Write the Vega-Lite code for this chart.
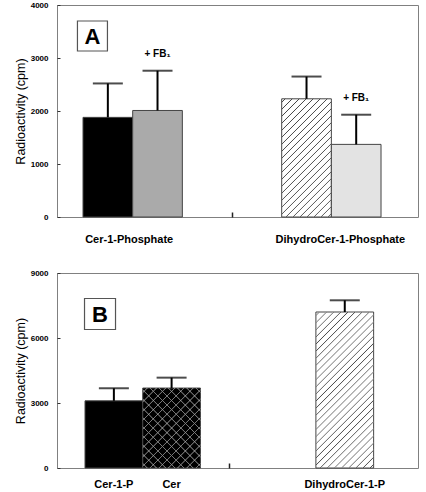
{
  "$schema": "https://vega.github.io/schema/vega-lite/v6.json",
  "padding": {"left": 13, "top": 0, "right": 8, "bottom": 0},
  "bounds": "flush",
  "spacing": 56,
  "config": {
    "font": "Liberation Sans",
    "view": {"stroke": "#808080", "strokeWidth": 1},
    "axis": {
      "grid": false,
      "domain": false,
      "labelFont": "Liberation Sans",
      "labelFontWeight": "bold",
      "labelFontSize": 8,
      "labelColor": "#000000",
      "tickColor": "#333333",
      "tickSize": -3,
      "labelPadding": 12,
      "titleFont": "Liberation Sans",
      "titleFontWeight": "normal",
      "titleFontSize": 12.5,
      "titleColor": "#000000",
      "titlePadding": 3
    }
  },
  "vconcat": [
    {
      "width": 361,
      "height": 212,
      "data": {"values": [
        {"cat": "Cer-1-P", "group": "Cer-1-Phosphate", "value": 1880, "upper": 2520, "note": ""},
        {"cat": "Cer-1-P+FB1", "group": "", "value": 2010, "upper": 2760, "note": "+ FB₁"},
        {"cat": "DihydroCer-1-P", "group": "DihydroCer-1-Phosphate", "value": 2230, "upper": 2650, "note": ""},
        {"cat": "DihydroCer-1-P+FB1", "group": "", "value": 1370, "upper": 1930, "note": "+ FB₁"}
      ]},
      "layer": [
        {
          "mark": {"type": "bar", "stroke": "#444444", "strokeWidth": 1},
          "encoding": {
            "x": {"field": "cat", "type": "nominal",
              "scale": {"domain": ["Cer-1-P", "Cer-1-P+FB1", "gap1", "gap2", "DihydroCer-1-P", "DihydroCer-1-P+FB1"], "paddingInner": 0, "paddingOuter": 0.634, "align": 0.413},
              "axis": {"title": null, "labels": false, "values": ["gap2"], "bandPosition": 0, "tickSize": -5, "tickWidth": 1.5, "tickColor": "#222222"}},
            "y": {"field": "value", "type": "quantitative",
              "scale": {"domain": [0, 4000], "nice": false},
              "axis": {"values": [0, 1000, 2000, 3000, 4000], "format": "d", "title": "Radioactivity (cpm)"}},
            "fill": {"field": "cat", "type": "nominal",
              "scale": {"domain": ["Cer-1-P", "Cer-1-P+FB1", "DihydroCer-1-P", "DihydroCer-1-P+FB1"], "range": ["#000000", "#aaaaaa", "#ffffff", "#e3e3e3"]},
              "legend": null}
          }
        },
        {
          "transform": [{"filter": "datum.cat === 'DihydroCer-1-P'"}],
          "mark": {"type": "bar", "strokeWidth": 0, "fill": {"gradient": "linear", "x1": 0, "y1": 0, "x2": 0.5073, "y2": 1.2071, "stops": [
            {"offset": 0.0138, "color": "rgba(255,255,255,0)"}, {"offset": 0.0208, "color": "#444444"}, {"offset": 0.0278, "color": "rgba(255,255,255,0)"},
            {"offset": 0.0555, "color": "rgba(255,255,255,0)"}, {"offset": 0.0625, "color": "#444444"}, {"offset": 0.0695, "color": "rgba(255,255,255,0)"},
            {"offset": 0.0972, "color": "rgba(255,255,255,0)"}, {"offset": 0.1042, "color": "#444444"}, {"offset": 0.1112, "color": "rgba(255,255,255,0)"},
            {"offset": 0.1388, "color": "rgba(255,255,255,0)"}, {"offset": 0.1458, "color": "#444444"}, {"offset": 0.1528, "color": "rgba(255,255,255,0)"},
            {"offset": 0.1805, "color": "rgba(255,255,255,0)"}, {"offset": 0.1875, "color": "#444444"}, {"offset": 0.1945, "color": "rgba(255,255,255,0)"},
            {"offset": 0.2222, "color": "rgba(255,255,255,0)"}, {"offset": 0.2292, "color": "#444444"}, {"offset": 0.2362, "color": "rgba(255,255,255,0)"},
            {"offset": 0.2638, "color": "rgba(255,255,255,0)"}, {"offset": 0.2708, "color": "#444444"}, {"offset": 0.2778, "color": "rgba(255,255,255,0)"},
            {"offset": 0.3055, "color": "rgba(255,255,255,0)"}, {"offset": 0.3125, "color": "#444444"}, {"offset": 0.3195, "color": "rgba(255,255,255,0)"},
            {"offset": 0.3472, "color": "rgba(255,255,255,0)"}, {"offset": 0.3542, "color": "#444444"}, {"offset": 0.3612, "color": "rgba(255,255,255,0)"},
            {"offset": 0.3888, "color": "rgba(255,255,255,0)"}, {"offset": 0.3958, "color": "#444444"}, {"offset": 0.4028, "color": "rgba(255,255,255,0)"},
            {"offset": 0.4305, "color": "rgba(255,255,255,0)"}, {"offset": 0.4375, "color": "#444444"}, {"offset": 0.4445, "color": "rgba(255,255,255,0)"},
            {"offset": 0.4722, "color": "rgba(255,255,255,0)"}, {"offset": 0.4792, "color": "#444444"}, {"offset": 0.4862, "color": "rgba(255,255,255,0)"},
            {"offset": 0.5138, "color": "rgba(255,255,255,0)"}, {"offset": 0.5208, "color": "#444444"}, {"offset": 0.5278, "color": "rgba(255,255,255,0)"},
            {"offset": 0.5555, "color": "rgba(255,255,255,0)"}, {"offset": 0.5625, "color": "#444444"}, {"offset": 0.5695, "color": "rgba(255,255,255,0)"},
            {"offset": 0.5972, "color": "rgba(255,255,255,0)"}, {"offset": 0.6042, "color": "#444444"}, {"offset": 0.6112, "color": "rgba(255,255,255,0)"},
            {"offset": 0.6388, "color": "rgba(255,255,255,0)"}, {"offset": 0.6458, "color": "#444444"}, {"offset": 0.6528, "color": "rgba(255,255,255,0)"},
            {"offset": 0.6805, "color": "rgba(255,255,255,0)"}, {"offset": 0.6875, "color": "#444444"}, {"offset": 0.6945, "color": "rgba(255,255,255,0)"},
            {"offset": 0.7222, "color": "rgba(255,255,255,0)"}, {"offset": 0.7292, "color": "#444444"}, {"offset": 0.7362, "color": "rgba(255,255,255,0)"},
            {"offset": 0.7638, "color": "rgba(255,255,255,0)"}, {"offset": 0.7708, "color": "#444444"}, {"offset": 0.7778, "color": "rgba(255,255,255,0)"},
            {"offset": 0.8055, "color": "rgba(255,255,255,0)"}, {"offset": 0.8125, "color": "#444444"}, {"offset": 0.8195, "color": "rgba(255,255,255,0)"},
            {"offset": 0.8472, "color": "rgba(255,255,255,0)"}, {"offset": 0.8542, "color": "#444444"}, {"offset": 0.8612, "color": "rgba(255,255,255,0)"},
            {"offset": 0.8888, "color": "rgba(255,255,255,0)"}, {"offset": 0.8958, "color": "#444444"}, {"offset": 0.9028, "color": "rgba(255,255,255,0)"},
            {"offset": 0.9305, "color": "rgba(255,255,255,0)"}, {"offset": 0.9375, "color": "#444444"}, {"offset": 0.9445, "color": "rgba(255,255,255,0)"},
            {"offset": 0.9722, "color": "rgba(255,255,255,0)"}, {"offset": 0.9792, "color": "#444444"}, {"offset": 0.9862, "color": "rgba(255,255,255,0)"}
          ]}},
          "encoding": {
            "x": {"field": "cat", "type": "nominal"},
            "y": {"field": "value", "type": "quantitative"}
          }
        },
        {
          "mark": {"type": "rule", "color": "#000000", "strokeWidth": 2},
          "encoding": {
            "x": {"field": "cat", "type": "nominal"},
            "y": {"field": "value", "type": "quantitative"},
            "y2": {"field": "upper"}
          }
        },
        {
          "mark": {"type": "tick", "color": "#000000", "size": 30, "thickness": 2},
          "encoding": {
            "x": {"field": "cat", "type": "nominal"},
            "y": {"field": "upper", "type": "quantitative"}
          }
        },
        {
          "transform": [{"filter": "datum.note !== ''"}],
          "mark": {"type": "text", "fontSize": 10, "fontWeight": "bold", "dy": -17, "baseline": "middle", "color": "#000000"},
          "encoding": {
            "x": {"field": "cat", "type": "nominal"},
            "y": {"field": "upper", "type": "quantitative"},
            "text": {"field": "note"}
          }
        },
        {
          "transform": [{"filter": "datum.cat === 'Cer-1-P'"}],
          "mark": {"type": "text", "fontSize": 11, "fontWeight": "bold", "dx": -3.5, "dy": 23, "baseline": "middle", "color": "#000000"},
          "encoding": {
            "x": {"field": "cat", "type": "nominal", "bandPosition": 1},
            "y": {"datum": 0, "type": "quantitative"},
            "text": {"field": "group"}
          }
        },
        {
          "transform": [{"filter": "datum.cat === 'DihydroCer-1-P'"}],
          "mark": {"type": "text", "fontSize": 11, "fontWeight": "bold", "dx": 9, "dy": 23, "baseline": "middle", "color": "#000000"},
          "encoding": {
            "x": {"field": "cat", "type": "nominal", "bandPosition": 1},
            "y": {"datum": 0, "type": "quantitative"},
            "text": {"field": "group"}
          }
        },
        {
          "data": {"values": [{"panel": "A"}]},
          "mark": {"type": "point", "shape": "square", "size": 900, "filled": false, "stroke": "#555555", "strokeWidth": 1.2, "opacity": 1},
          "encoding": {
            "x": {"datum": "Cer-1-P", "type": "nominal", "bandPosition": 0.19},
            "y": {"datum": 3415, "type": "quantitative"}
          }
        },
        {
          "data": {"values": [{"panel": "A"}]},
          "mark": {"type": "text", "fontSize": 22, "fontWeight": "bold", "baseline": "middle", "dy": 1, "color": "#000000"},
          "encoding": {
            "x": {"datum": "Cer-1-P", "type": "nominal", "bandPosition": 0.19},
            "y": {"datum": 3415, "type": "quantitative"},
            "text": {"field": "panel"}
          }
        }
      ]
    },
    {
      "width": 361,
      "height": 195,
      "data": {"values": [
        {"cat": "Cer-1-P", "value": 3100, "upper": 3680},
        {"cat": "Cer", "value": 3690, "upper": 4170},
        {"cat": "DihydroCer-1-P", "value": 7200, "upper": 7740}
      ]},
      "layer": [
        {
          "mark": {"type": "bar", "stroke": "#444444", "strokeWidth": 1},
          "encoding": {
            "x": {"field": "cat", "type": "nominal",
              "scale": {"domain": ["Cer-1-P", "Cer", "gap1", "gap2", "DihydroCer-1-P"], "paddingInner": 0, "paddingOuter": 0.627, "align": 0.387},
              "axis": {"title": null, "labels": false, "values": ["gap1"], "bandPosition": 0.5, "tickSize": -5, "tickWidth": 1.5, "tickColor": "#222222"}},
            "y": {"field": "value", "type": "quantitative",
              "scale": {"domain": [0, 9000], "nice": false},
              "axis": {"values": [0, 3000, 6000, 9000], "format": "d", "title": "Radioactivity (cpm)"}},
            "fill": {"field": "cat", "type": "nominal",
              "scale": {"domain": ["Cer-1-P", "Cer", "DihydroCer-1-P"], "range": ["#000000", "#ffffff", "#ffffff"]},
              "legend": null}
          }
        },
        {
          "transform": [{"filter": "datum.cat === 'DihydroCer-1-P'"}],
          "mark": {"type": "bar", "strokeWidth": 0, "fill": {"gradient": "linear", "x1": 0, "y1": 0, "x2": 0.4458, "y2": 1.2049, "stops": [
            {"offset": 0.0107, "color": "rgba(255,255,255,0)"}, {"offset": 0.0167, "color": "#444444"}, {"offset": 0.0227, "color": "rgba(255,255,255,0)"},
            {"offset": 0.044, "color": "rgba(255,255,255,0)"}, {"offset": 0.05, "color": "#444444"}, {"offset": 0.056, "color": "rgba(255,255,255,0)"},
            {"offset": 0.0773, "color": "rgba(255,255,255,0)"}, {"offset": 0.0833, "color": "#444444"}, {"offset": 0.0893, "color": "rgba(255,255,255,0)"},
            {"offset": 0.1107, "color": "rgba(255,255,255,0)"}, {"offset": 0.1167, "color": "#444444"}, {"offset": 0.1227, "color": "rgba(255,255,255,0)"},
            {"offset": 0.144, "color": "rgba(255,255,255,0)"}, {"offset": 0.15, "color": "#444444"}, {"offset": 0.156, "color": "rgba(255,255,255,0)"},
            {"offset": 0.1773, "color": "rgba(255,255,255,0)"}, {"offset": 0.1833, "color": "#444444"}, {"offset": 0.1893, "color": "rgba(255,255,255,0)"},
            {"offset": 0.2107, "color": "rgba(255,255,255,0)"}, {"offset": 0.2167, "color": "#444444"}, {"offset": 0.2227, "color": "rgba(255,255,255,0)"},
            {"offset": 0.244, "color": "rgba(255,255,255,0)"}, {"offset": 0.25, "color": "#444444"}, {"offset": 0.256, "color": "rgba(255,255,255,0)"},
            {"offset": 0.2773, "color": "rgba(255,255,255,0)"}, {"offset": 0.2833, "color": "#444444"}, {"offset": 0.2893, "color": "rgba(255,255,255,0)"},
            {"offset": 0.3107, "color": "rgba(255,255,255,0)"}, {"offset": 0.3167, "color": "#444444"}, {"offset": 0.3227, "color": "rgba(255,255,255,0)"},
            {"offset": 0.344, "color": "rgba(255,255,255,0)"}, {"offset": 0.35, "color": "#444444"}, {"offset": 0.356, "color": "rgba(255,255,255,0)"},
            {"offset": 0.3773, "color": "rgba(255,255,255,0)"}, {"offset": 0.3833, "color": "#444444"}, {"offset": 0.3893, "color": "rgba(255,255,255,0)"},
            {"offset": 0.4107, "color": "rgba(255,255,255,0)"}, {"offset": 0.4167, "color": "#444444"}, {"offset": 0.4227, "color": "rgba(255,255,255,0)"},
            {"offset": 0.444, "color": "rgba(255,255,255,0)"}, {"offset": 0.45, "color": "#444444"}, {"offset": 0.456, "color": "rgba(255,255,255,0)"},
            {"offset": 0.4773, "color": "rgba(255,255,255,0)"}, {"offset": 0.4833, "color": "#444444"}, {"offset": 0.4893, "color": "rgba(255,255,255,0)"},
            {"offset": 0.5107, "color": "rgba(255,255,255,0)"}, {"offset": 0.5167, "color": "#444444"}, {"offset": 0.5227, "color": "rgba(255,255,255,0)"},
            {"offset": 0.544, "color": "rgba(255,255,255,0)"}, {"offset": 0.55, "color": "#444444"}, {"offset": 0.556, "color": "rgba(255,255,255,0)"},
            {"offset": 0.5773, "color": "rgba(255,255,255,0)"}, {"offset": 0.5833, "color": "#444444"}, {"offset": 0.5893, "color": "rgba(255,255,255,0)"},
            {"offset": 0.6107, "color": "rgba(255,255,255,0)"}, {"offset": 0.6167, "color": "#444444"}, {"offset": 0.6227, "color": "rgba(255,255,255,0)"},
            {"offset": 0.644, "color": "rgba(255,255,255,0)"}, {"offset": 0.65, "color": "#444444"}, {"offset": 0.656, "color": "rgba(255,255,255,0)"},
            {"offset": 0.6773, "color": "rgba(255,255,255,0)"}, {"offset": 0.6833, "color": "#444444"}, {"offset": 0.6893, "color": "rgba(255,255,255,0)"},
            {"offset": 0.7107, "color": "rgba(255,255,255,0)"}, {"offset": 0.7167, "color": "#444444"}, {"offset": 0.7227, "color": "rgba(255,255,255,0)"},
            {"offset": 0.744, "color": "rgba(255,255,255,0)"}, {"offset": 0.75, "color": "#444444"}, {"offset": 0.756, "color": "rgba(255,255,255,0)"},
            {"offset": 0.7773, "color": "rgba(255,255,255,0)"}, {"offset": 0.7833, "color": "#444444"}, {"offset": 0.7893, "color": "rgba(255,255,255,0)"},
            {"offset": 0.8107, "color": "rgba(255,255,255,0)"}, {"offset": 0.8167, "color": "#444444"}, {"offset": 0.8227, "color": "rgba(255,255,255,0)"},
            {"offset": 0.844, "color": "rgba(255,255,255,0)"}, {"offset": 0.85, "color": "#444444"}, {"offset": 0.856, "color": "rgba(255,255,255,0)"},
            {"offset": 0.8773, "color": "rgba(255,255,255,0)"}, {"offset": 0.8833, "color": "#444444"}, {"offset": 0.8893, "color": "rgba(255,255,255,0)"},
            {"offset": 0.9107, "color": "rgba(255,255,255,0)"}, {"offset": 0.9167, "color": "#444444"}, {"offset": 0.9227, "color": "rgba(255,255,255,0)"},
            {"offset": 0.944, "color": "rgba(255,255,255,0)"}, {"offset": 0.95, "color": "#444444"}, {"offset": 0.956, "color": "rgba(255,255,255,0)"},
            {"offset": 0.9773, "color": "rgba(255,255,255,0)"}, {"offset": 0.9833, "color": "#444444"}, {"offset": 0.9893, "color": "rgba(255,255,255,0)"}
          ]}},
          "encoding": {
            "x": {"field": "cat", "type": "nominal"},
            "y": {"field": "value", "type": "quantitative"}
          }
        },
        {
          "transform": [{"filter": "datum.cat === 'Cer'"}],
          "mark": {"type": "bar", "strokeWidth": 0, "fill": {"gradient": "linear", "x1": 0, "y1": 0, "x2": 0.8172, "y2": 1.1319, "stops": [
            {"offset": 0.0273, "color": "rgba(255,255,255,0)"}, {"offset": 0.0333, "color": "#777777"}, {"offset": 0.0393, "color": "rgba(255,255,255,0)"},
            {"offset": 0.094, "color": "rgba(255,255,255,0)"}, {"offset": 0.1, "color": "#777777"}, {"offset": 0.106, "color": "rgba(255,255,255,0)"},
            {"offset": 0.1607, "color": "rgba(255,255,255,0)"}, {"offset": 0.1667, "color": "#777777"}, {"offset": 0.1727, "color": "rgba(255,255,255,0)"},
            {"offset": 0.2273, "color": "rgba(255,255,255,0)"}, {"offset": 0.2333, "color": "#777777"}, {"offset": 0.2393, "color": "rgba(255,255,255,0)"},
            {"offset": 0.294, "color": "rgba(255,255,255,0)"}, {"offset": 0.3, "color": "#777777"}, {"offset": 0.306, "color": "rgba(255,255,255,0)"},
            {"offset": 0.3607, "color": "rgba(255,255,255,0)"}, {"offset": 0.3667, "color": "#777777"}, {"offset": 0.3727, "color": "rgba(255,255,255,0)"},
            {"offset": 0.4273, "color": "rgba(255,255,255,0)"}, {"offset": 0.4333, "color": "#777777"}, {"offset": 0.4393, "color": "rgba(255,255,255,0)"},
            {"offset": 0.494, "color": "rgba(255,255,255,0)"}, {"offset": 0.5, "color": "#777777"}, {"offset": 0.506, "color": "rgba(255,255,255,0)"},
            {"offset": 0.5607, "color": "rgba(255,255,255,0)"}, {"offset": 0.5667, "color": "#777777"}, {"offset": 0.5727, "color": "rgba(255,255,255,0)"},
            {"offset": 0.6273, "color": "rgba(255,255,255,0)"}, {"offset": 0.6333, "color": "#777777"}, {"offset": 0.6393, "color": "rgba(255,255,255,0)"},
            {"offset": 0.694, "color": "rgba(255,255,255,0)"}, {"offset": 0.7, "color": "#777777"}, {"offset": 0.706, "color": "rgba(255,255,255,0)"},
            {"offset": 0.7607, "color": "rgba(255,255,255,0)"}, {"offset": 0.7667, "color": "#777777"}, {"offset": 0.7727, "color": "rgba(255,255,255,0)"},
            {"offset": 0.8273, "color": "rgba(255,255,255,0)"}, {"offset": 0.8333, "color": "#777777"}, {"offset": 0.8393, "color": "rgba(255,255,255,0)"},
            {"offset": 0.894, "color": "rgba(255,255,255,0)"}, {"offset": 0.9, "color": "#777777"}, {"offset": 0.906, "color": "rgba(255,255,255,0)"},
            {"offset": 0.9607, "color": "rgba(255,255,255,0)"}, {"offset": 0.9667, "color": "#777777"}, {"offset": 0.9727, "color": "rgba(255,255,255,0)"}
          ]}},
          "encoding": {
            "x": {"field": "cat", "type": "nominal"},
            "y": {"field": "value", "type": "quantitative"}
          }
        },
        {
          "transform": [{"filter": "datum.cat === 'Cer'"}],
          "mark": {"type": "bar", "strokeWidth": 0, "fill": {"gradient": "linear", "x1": 0, "y1": 1, "x2": 0.8172, "y2": -0.1319, "stops": [
            {"offset": 0.0273, "color": "rgba(255,255,255,0)"}, {"offset": 0.0333, "color": "#777777"}, {"offset": 0.0393, "color": "rgba(255,255,255,0)"},
            {"offset": 0.094, "color": "rgba(255,255,255,0)"}, {"offset": 0.1, "color": "#777777"}, {"offset": 0.106, "color": "rgba(255,255,255,0)"},
            {"offset": 0.1607, "color": "rgba(255,255,255,0)"}, {"offset": 0.1667, "color": "#777777"}, {"offset": 0.1727, "color": "rgba(255,255,255,0)"},
            {"offset": 0.2273, "color": "rgba(255,255,255,0)"}, {"offset": 0.2333, "color": "#777777"}, {"offset": 0.2393, "color": "rgba(255,255,255,0)"},
            {"offset": 0.294, "color": "rgba(255,255,255,0)"}, {"offset": 0.3, "color": "#777777"}, {"offset": 0.306, "color": "rgba(255,255,255,0)"},
            {"offset": 0.3607, "color": "rgba(255,255,255,0)"}, {"offset": 0.3667, "color": "#777777"}, {"offset": 0.3727, "color": "rgba(255,255,255,0)"},
            {"offset": 0.4273, "color": "rgba(255,255,255,0)"}, {"offset": 0.4333, "color": "#777777"}, {"offset": 0.4393, "color": "rgba(255,255,255,0)"},
            {"offset": 0.494, "color": "rgba(255,255,255,0)"}, {"offset": 0.5, "color": "#777777"}, {"offset": 0.506, "color": "rgba(255,255,255,0)"},
            {"offset": 0.5607, "color": "rgba(255,255,255,0)"}, {"offset": 0.5667, "color": "#777777"}, {"offset": 0.5727, "color": "rgba(255,255,255,0)"},
            {"offset": 0.6273, "color": "rgba(255,255,255,0)"}, {"offset": 0.6333, "color": "#777777"}, {"offset": 0.6393, "color": "rgba(255,255,255,0)"},
            {"offset": 0.694, "color": "rgba(255,255,255,0)"}, {"offset": 0.7, "color": "#777777"}, {"offset": 0.706, "color": "rgba(255,255,255,0)"},
            {"offset": 0.7607, "color": "rgba(255,255,255,0)"}, {"offset": 0.7667, "color": "#777777"}, {"offset": 0.7727, "color": "rgba(255,255,255,0)"},
            {"offset": 0.8273, "color": "rgba(255,255,255,0)"}, {"offset": 0.8333, "color": "#777777"}, {"offset": 0.8393, "color": "rgba(255,255,255,0)"},
            {"offset": 0.894, "color": "rgba(255,255,255,0)"}, {"offset": 0.9, "color": "#777777"}, {"offset": 0.906, "color": "rgba(255,255,255,0)"},
            {"offset": 0.9607, "color": "rgba(255,255,255,0)"}, {"offset": 0.9667, "color": "#777777"}, {"offset": 0.9727, "color": "rgba(255,255,255,0)"}
          ]}},
          "encoding": {
            "x": {"field": "cat", "type": "nominal"},
            "y": {"field": "value", "type": "quantitative"}
          }
        },
        {
          "mark": {"type": "rule", "color": "#000000", "strokeWidth": 2},
          "encoding": {
            "x": {"field": "cat", "type": "nominal"},
            "y": {"field": "value", "type": "quantitative"},
            "y2": {"field": "upper"}
          }
        },
        {
          "mark": {"type": "tick", "color": "#000000", "size": 30, "thickness": 2},
          "encoding": {
            "x": {"field": "cat", "type": "nominal"},
            "y": {"field": "upper", "type": "quantitative"}
          }
        },
        {
          "mark": {"type": "text", "fontSize": 11, "fontWeight": "bold", "dy": 17, "baseline": "middle", "color": "#000000"},
          "encoding": {
            "x": {"field": "cat", "type": "nominal"},
            "y": {"datum": 0, "type": "quantitative"},
            "text": {"field": "cat"}
          }
        },
        {
          "data": {"values": [{"panel": "B"}]},
          "mark": {"type": "point", "shape": "square", "size": 961, "filled": false, "stroke": "#555555", "strokeWidth": 1.2, "opacity": 1},
          "encoding": {
            "x": {"datum": "Cer-1-P", "type": "nominal", "bandPosition": 0.26},
            "y": {"datum": 7107, "type": "quantitative"}
          }
        },
        {
          "data": {"values": [{"panel": "B"}]},
          "mark": {"type": "text", "fontSize": 22, "fontWeight": "bold", "baseline": "middle", "dy": 1, "color": "#000000"},
          "encoding": {
            "x": {"datum": "Cer-1-P", "type": "nominal", "bandPosition": 0.26},
            "y": {"datum": 7107, "type": "quantitative"},
            "text": {"field": "panel"}
          }
        }
      ]
    }
  ]
}
